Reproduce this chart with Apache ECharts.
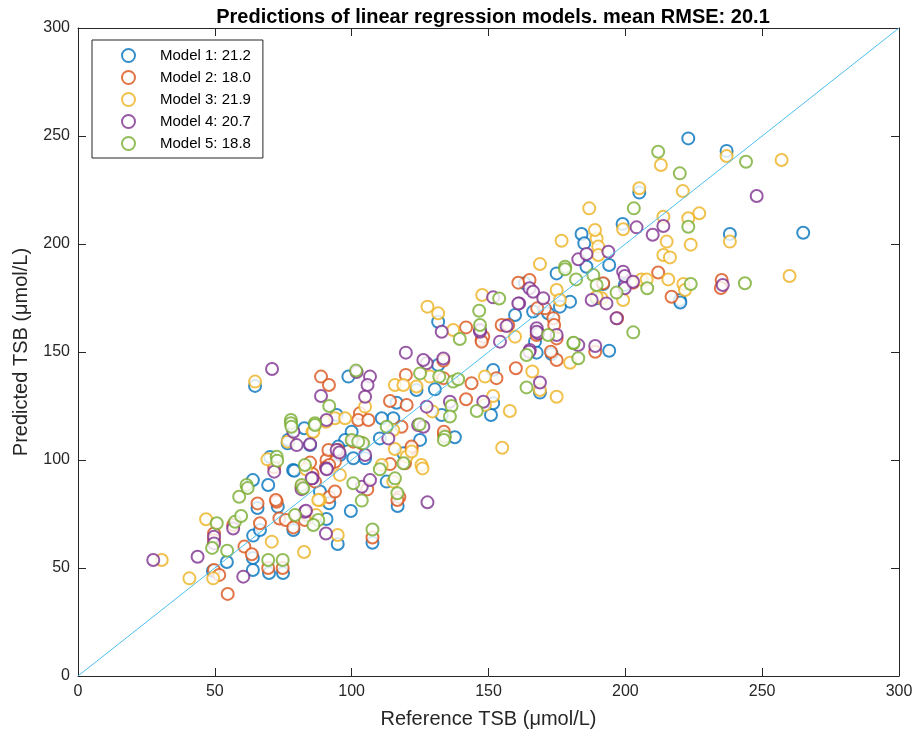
<!DOCTYPE html>
<html>
<head>
<meta charset="utf-8">
<script src="https://cdn.jsdelivr.net/npm/echarts@6/dist/echarts.min.js"></script>
<style>
html,body{margin:0;padding:0;background:#fff;}
#chart{width:919px;height:736px;}
</style>
</head>
<body>
<div id="chart"></div>
<script>
const titleText = "Predictions of linear regression models. mean RMSE: 20.1";
const xName = "Reference TSB (\u03bcmol/L)";
const yName = "Predicted TSB (\u03bcmol/L)";
const modelNames = ["Model 1: 21.2", "Model 2: 18.0", "Model 3: 21.9", "Model 4: 20.7", "Model 5: 18.8"];
const modelColors = ["#0072BD", "#D95319", "#EDB120", "#7E2F8E", "#77AC30"];
const diagonal = [[0, 0], [300, 300]];

const model1 = [[49.3,48.6],[54.4,52.8],[63.9,49.1],[69.8,47.7],[74.9,47.7],[63.9,54.6],[64,65],[66.5,67.6],[65.6,77.8],[63.9,90.7],[64.7,134.3],[70.2,101.4],[78.6,95.4],[78.7,67.6],[73,78.4],[69.5,88.4],[79,95],[76.6,107.7],[82.7,114.7],[76.8,109.3],[84.8,106.9],[94.5,120.8],[100,113.1],[97.6,109.3],[95.1,106.2],[91.8,80],[88.4,85.4],[90.8,72.7],[99.7,76.4],[94.9,61.1],[107.6,61.7],[104.9,100.8],[95.7,102.3],[100.6,100.8],[110.3,110],[115.2,119.3],[111,119.3],[116.4,126.5],[118.9,103.1],[116.8,78.7],[112.8,90],[125,109.3],[123.7,132.4],[130.4,132.7],[131.6,144],[98.8,138.6],[132.9,120.8],[137.7,110.5],[150.9,120.8],[151.7,126.3],[151.7,141.7],[168.8,131.2],[131.6,164],[159.7,167.1],[166.3,168.7],[163.3,181.8],[167,154.8],[167.6,149.7],[173.1,149.1],[171.8,167.9],[174.9,186.4],[179.8,173.3],[176.1,171],[184,204.6],[185,200.3],[185.8,189.5],[194.1,190.3],[189.5,174.9],[191.9,181.5],[199.8,181],[194.1,150.6],[205.1,223.8],[199,209.3],[223,248.9],[237,243.1],[238.2,204.6],[265,205.2],[219.9,174.1],[220.1,172.9]];

const model2 = [[54.7,38],[49.7,49.1],[51.6,46.8],[49.7,66],[49.7,62.9],[56.7,69.9],[60.8,59.9],[63.5,56.4],[65.6,79.9],[66.5,70.7],[69.5,50],[74.8,50],[72.6,80.7],[73.6,72.9],[75.9,72.2],[71.7,96.6],[85.7,93.5],[72.3,81.5],[81.7,87.6],[90.8,100],[93.9,99.2],[88.8,138.6],[91.7,134.7],[103,121.6],[102.4,118.5],[106.1,118.5],[114,127.3],[120.1,125.5],[119.8,139.4],[133.5,137.9],[118.2,115.4],[121.9,105.4],[107.6,64.1],[91.8,82.8],[93.9,85.4],[83.6,74.5],[82.9,72.2],[78.7,68.8],[105.7,86.4],[90.6,96.6],[91.8,97.7],[84.8,98.8],[86.6,90],[117.4,82.8],[116.7,81.5],[114,98.1],[119.5,98.5],[121.9,106.2],[103.7,107.7],[100.6,108.5],[95.1,104.6],[91.5,104.6],[133.7,111.6],[133.7,113.1],[141.8,128.1],[143.8,135.5],[152.9,137.9],[160,142.5],[141.8,161.4],[147.5,155.6],[160.9,182.1],[165,183.3],[154.8,162.5],[157.2,162.5],[148.1,157.1],[147.5,154.8],[170.6,170.2],[167.8,170.2],[173.7,165.6],[174,162.5],[167.6,157.9],[174.9,156.3],[174.9,146.3],[172.8,150.1],[189,150.1],[197,165.6],[216.9,175.6],[212,186.8],[202.9,182.1],[235.2,183.3],[234.9,179.6],[191.9,181.8],[133.5,146]];

const model3 = [[46.8,72.6],[30.6,53.7],[40.7,45.2],[49.4,45.2],[70.8,62.2],[82.6,57.4],[64.7,136.3],[69.2,100.3],[83.3,95.7],[85.7,113.1],[76.6,108.5],[90.6,117.7],[88.4,81.5],[104.9,124.7],[115.8,134.7],[118.9,134.7],[123.7,134],[128.6,138.6],[129.5,122.5],[86,113.1],[93.9,119.3],[97.6,119.3],[115.2,113.9],[120.1,101.5],[125.5,97.7],[94.9,65.3],[87,74.5],[87.8,81.5],[95.7,93.1],[111,97.7],[115.2,90],[125.9,96.1],[121.9,103.9],[115.8,105.1],[127.7,171],[131.6,167.9],[137.1,160.2],[147.7,176.4],[148.7,125.5],[151.7,129.6],[157.8,122.7],[155,105.7],[148.7,138.6],[166,141],[168.8,132.4],[174.9,129.3],[179.8,145],[174.9,178.7],[176.1,174.1],[176.7,201.5],[168.8,190.7],[189.5,202.6],[190.1,198.8],[190.1,194.9],[188.9,206.5],[186.8,216.5],[191.3,174.9],[189.5,175.6],[199.2,174.1],[205.9,183.6],[207.8,183.6],[215.7,183.6],[221.2,181.5],[221.8,178.7],[205.1,225.8],[221,224.5],[213.9,212.6],[227,214.2],[223,211.9],[215.1,201.1],[213.9,194.9],[216.3,193.8],[223.9,199.7],[213,236.6],[237,240.7],[238.2,201.1],[257.1,238.9],[260,185.2],[199.2,206.8],[159.7,157.1]];

const model4 = [[27.5,53.7],[43.7,55.2],[49.7,64.5],[49.7,61.4],[56.7,68.3],[60.4,46],[70.9,142.1],[88.8,129.6],[78.7,113.1],[79.9,106.9],[84.8,107.3],[71.7,94.6],[85.7,91.5],[81.7,86.5],[90.8,96.1],[94.5,104.6],[82.9,76],[119.8,149.7],[101.8,140.7],[106.7,138.6],[105.8,134.7],[104.9,129.3],[127.4,144.8],[126.2,146.3],[135.9,127],[127.4,124.7],[124.3,116.2],[126.2,115.4],[90.8,118.5],[95.5,103.5],[104.9,102.3],[113.4,110],[90.6,66],[83.3,76.5],[103.7,87.6],[106.7,90.7],[85.4,91.5],[90.9,95.7],[127.7,80.4],[165,179.5],[166.3,177.9],[151.7,175.3],[132.9,159.4],[146.9,159.4],[161.2,172.5],[156.6,162],[165.1,150.9],[133.5,147],[182.8,192.9],[185.8,195.4],[193.8,196.4],[187.7,174.1],[193.1,172.5],[196.8,165.6],[199.2,187.2],[146.9,160.2],[154.2,154.8],[160.9,172.5],[170,174.9],[167.6,161],[168.2,158.7],[182.8,153.2],[189,152.8],[148.1,127],[168.8,135.9],[164.9,150.1],[167.6,159.4],[174.9,157.9],[204.1,207.7],[210,204.3],[213.9,208.3],[248,222.2],[199.8,185.2],[199.8,179.5],[235.6,181],[202.8,182.5]];

const model5 = [[50.7,70.7],[49,59.3],[54.5,58],[57.4,71.4],[58.9,83],[61.6,88.4],[59.6,74.1],[69.5,53.7],[74.8,53.7],[91.8,125],[77.8,118.5],[77.8,117],[86.6,117],[72.6,101.5],[72.8,99.7],[82.9,97.7],[62,87],[81.7,88.4],[100.6,89.2],[101.6,141.4],[125,140.1],[132,138.6],[137.1,136.3],[136.5,125],[124.8,116.5],[134.1,110.8],[118.9,98.5],[78,115.4],[86.6,116.2],[100,109.3],[104.2,107.7],[112.8,115.4],[107.6,67.8],[87.8,72.2],[86,69.9],[79.3,74.5],[103.7,81.2],[82.3,86.9],[116.7,84.6],[115.8,91.5],[110.3,95.7],[102.4,108.5],[133.7,109.3],[145.7,122.7],[135.9,120.1],[138.9,137.4],[163.9,133.6],[163.9,148.6],[182.8,147.1],[181,154],[153.9,174.8],[146.6,169.1],[146.9,162.5],[139.5,156],[178,189.5],[178,188.3],[182,183.6],[188.3,185.6],[189.5,181],[171.8,157.9],[181.1,154.3],[202.9,159.1],[203.1,216.5],[212,242.7],[219.9,232.7],[244.1,238.1],[223,208],[223.9,181.5],[208,179.5],[196.8,177.5],[243.7,181.8]];

const xTicks = {min: 0, max: 300, interval: 50};
const yTicks = {min: 0, max: 300, interval: 50};

const modelData = [model1, model2, model3, model4, model5];
const axisColor = '#262626';
const font = 'Liberation Sans, Arial, Helvetica, sans-serif';

function axisBase(extra) {
  return Object.assign({
    type: 'value',
    splitLine: {show: false},
    axisLine: {show: true, onZero: false, lineStyle: {color: axisColor, width: 1}},
    axisTick: {show: true, inside: true, length: 8, lineStyle: {color: axisColor}},
    axisLabel: {color: axisColor, fontSize: 16, fontFamily: font}
  }, extra);
}

const series = modelData.map((d, i) => ({
  name: modelNames[i],
  type: 'scatter',
  xAxisIndex: 0, yAxisIndex: 0,
  data: d,
  symbol: 'emptyCircle',
  symbolSize: 12,
  itemStyle: {color: modelColors[i], borderColor: modelColors[i], borderWidth: 1},
  emphasis: {disabled: true},
  z: 2
}));
series.push({
  type: 'line', data: diagonal, symbol: 'none', silent: true,
  lineStyle: {color: '#4DBEEE', width: 1}, z: 3, animation: false
});

const chart = echarts.init(document.getElementById('chart'));
chart.setOption({
  animation: false,
  backgroundColor: '#fff',
  title: {
    text: titleText, left: 488, textAlign: 'center', top: 2,
    textStyle: {fontSize: 20, fontWeight: 'bold', color: '#000', fontFamily: font}
  },
  grid: {left: 78, right: 20, top: 28, bottom: 60, containLabel: false},
  legend: {
    orient: 'vertical', left: 92, top: 40,
    data: modelNames.map(n => ({name: n, icon: 'emptyCircle'})),
    itemWidth: 13, itemHeight: 13, itemGap: 7,
    padding: [8, 12, 7, 29],
    borderColor: axisColor, borderWidth: 1, backgroundColor: '#fff',
    textStyle: {fontSize: 15, color: '#000', fontFamily: font, padding: [0, 0, 0, 20]},
    selectedMode: false
  },
  xAxis: [
    axisBase(Object.assign({position: 'bottom', name: xName, nameLocation: 'middle', nameGap: 33,
      nameTextStyle: {fontSize: 20, color: axisColor, fontFamily: font}}, xTicks)),
    axisBase(Object.assign({position: 'top', axisLabel: {show: false}}, xTicks))
  ],
  yAxis: [
    axisBase(Object.assign({position: 'left', name: yName, nameLocation: 'middle', nameGap: 47, nameRotate: 90,
      nameTextStyle: {fontSize: 20, color: axisColor, fontFamily: font}}, yTicks)),
    axisBase(Object.assign({position: 'right', axisLabel: {show: false}}, yTicks))
  ],
  series: series
});
</script>
</body>
</html>
